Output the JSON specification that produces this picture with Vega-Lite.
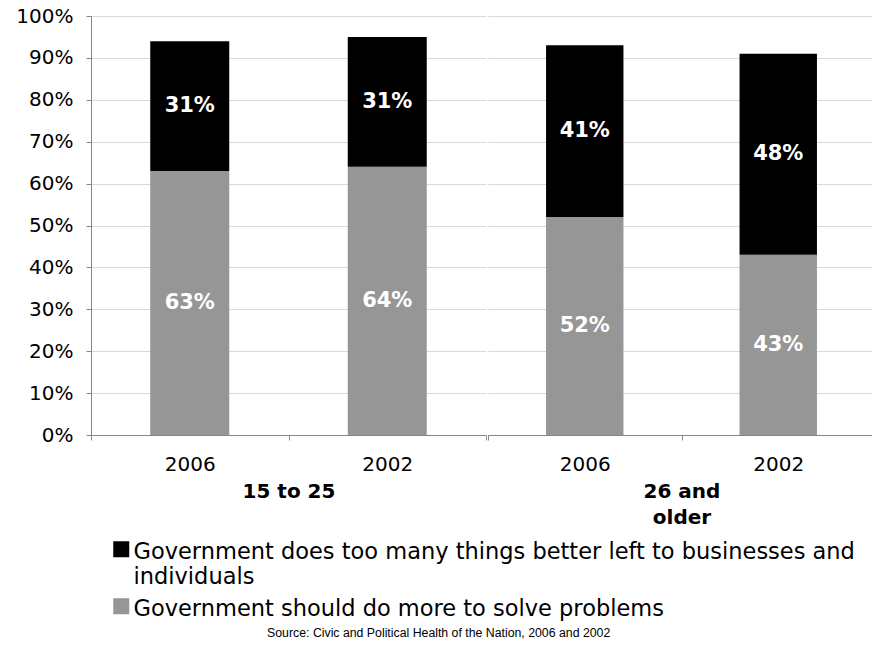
{
  "$schema": "https://vega.github.io/schema/vega-lite/v6.json",
  "padding": {"left": 15, "top": 6, "right": 0, "bottom": 4},
  "background": "white",
  "data": {
    "values": [
      {"group": "15 to 25", "year": "2006", "series": "Government should do more to solve problems", "value": 0.63},
      {"group": "15 to 25", "year": "2006", "series": "Government does too many things better left to businesses and individuals", "value": 0.31},
      {"group": "15 to 25", "year": "2002", "series": "Government should do more to solve problems", "value": 0.64},
      {"group": "15 to 25", "year": "2002", "series": "Government does too many things better left to businesses and individuals", "value": 0.31},
      {"group": "26 and older", "year": "2006", "series": "Government should do more to solve problems", "value": 0.52},
      {"group": "26 and older", "year": "2006", "series": "Government does too many things better left to businesses and individuals", "value": 0.41},
      {"group": "26 and older", "year": "2002", "series": "Government should do more to solve problems", "value": 0.43},
      {"group": "26 and older", "year": "2002", "series": "Government does too many things better left to businesses and individuals", "value": 0.48}
    ]
  },
  "spacing": 0,
  "hconcat": [
    {
      "width": 395,
      "height": 419,
      "transform": [{"filter": "datum.group == '15 to 25'"}],
      "encoding": {
        "x": {
          "field": "year", "type": "nominal", "sort": ["2006", "2002"],
          "scale": {"paddingInner": 0, "paddingOuter": 0},
          "axis": {"title": "15 to 25", "tickBand": "extent"}
        }
      },
      "layer": [
        {
          "mark": {"type": "bar", "width": {"band": 0.4}},
          "encoding": {
            "y": {
              "field": "value", "type": "quantitative", "stack": "zero",
              "scale": {"domain": [0, 1]},
              "axis": {"values": [0, 0.1, 0.2, 0.3, 0.4, 0.5, 0.6, 0.7, 0.8, 0.9, 1], "format": ".0%", "title": null, "grid": true, "labelPadding": 13}
            },
            "color": {
              "field": "series", "type": "nominal",
              "scale": {
                "domain": ["Government does too many things better left to businesses and individuals", "Government should do more to solve problems"],
                "range": ["#000000", "#969696"]
              },
              "legend": {
                "orient": "none", "legendX": 19, "legendY": 522, "direction": "vertical", "title": null,
                "symbolType": "square", "symbolSize": 256, "symbolStrokeWidth": 0,
                "labelFont": "DejaVu Sans", "labelFontSize": 22.5, "labelColor": "#000", "labelLimit": 1000,
                "labelBaseline": "top", "labelLineHeight": 26, "labelOffset": 1, "rowPadding": 6, "padding": 0,
                "labelExpr": "length(datum.label) > 65 ? [substring(datum.label, 0, 61), substring(datum.label, 62)] : datum.label",
                "encode": {"labels": {"update": {"dy": {"value": -8}}}}
              }
            },
            "order": {"field": "series", "sort": "descending"}
          }
        },
        {
          "mark": {"type": "text", "color": "white", "font": "DejaVu Sans", "fontWeight": "bold", "fontSize": 21, "baseline": "middle", "align": "center"},
          "encoding": {
            "y": {"field": "value", "type": "quantitative", "stack": "zero", "bandPosition": 0.5},
            "text": {"field": "value", "type": "quantitative", "format": ".0%"},
            "detail": {"field": "series"},
            "order": {"field": "series", "sort": "descending"}
          }
        }
      ]
    },
    {
      "width": 387,
      "height": 419,
      "transform": [{"filter": "datum.group == '26 and older'"}],
      "encoding": {
        "x": {
          "field": "year", "type": "nominal", "sort": ["2006", "2002"],
          "scale": {"paddingInner": 0, "paddingOuter": 0},
          "axis": {"title": ["26 and", "older"], "tickBand": "extent"}
        }
      },
      "layer": [
        {
          "mark": {"type": "bar", "width": {"band": 0.4}},
          "encoding": {
            "y": {
              "field": "value", "type": "quantitative", "stack": "zero",
              "scale": {"domain": [0, 1]},
              "axis": {"values": [0, 0.1, 0.2, 0.3, 0.4, 0.5, 0.6, 0.7, 0.8, 0.9, 1], "labels": false, "ticks": false, "domain": false, "title": null, "grid": true}
            },
            "color": {"field": "series", "type": "nominal"},
            "order": {"field": "series", "sort": "descending"}
          }
        },
        {
          "mark": {"type": "text", "color": "white", "font": "DejaVu Sans", "fontWeight": "bold", "fontSize": 21, "baseline": "middle", "align": "center"},
          "encoding": {
            "y": {"field": "value", "type": "quantitative", "stack": "zero", "bandPosition": 0.5},
            "text": {"field": "value", "type": "quantitative", "format": ".0%"},
            "detail": {"field": "series"},
            "order": {"field": "series", "sort": "descending"}
          }
        }
      ]
    }
  ],
  "resolve": {"scale": {"y": "shared", "color": "shared"}},
  "title": {
    "text": "Source: Civic and Political Health of the Nation, 2006 and 2002",
    "orient": "bottom", "anchor": "middle", "frame": "bounds", "dx": -7,
    "font": "Liberation Sans", "fontSize": 12.3, "fontWeight": "normal", "color": "#000", "offset": 6
  },
  "config": {
    "view": {"stroke": null},
    "font": "DejaVu Sans",
    "axis": {
      "labelFont": "DejaVu Sans", "labelFontSize": 20, "labelColor": "#000",
      "domainColor": "#868686", "tickColor": "#868686", "tickSize": 5, "gridColor": "#d9d9d9", "gridWidth": 1,
      "titleFont": "DejaVu Sans", "titleFontSize": 20, "titleFontWeight": "bold", "titleColor": "#000"
    },
    "axisX": {"labelAngle": 0, "labelPadding": 14, "titlePadding": 7, "titleLineHeight": 26, "grid": false}
  }
}
